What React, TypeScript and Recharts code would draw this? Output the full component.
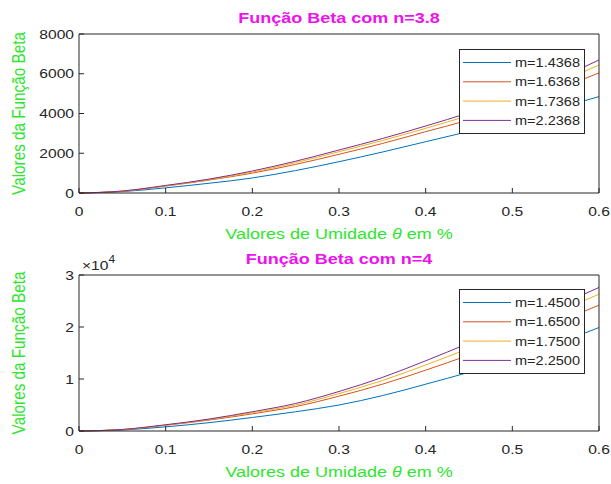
import { LineChart, Line, XAxis, YAxis, Legend, Label } from "recharts";

// teor de umidade (theta)
const theta = [0, 0.05, 0.1, 0.15, 0.2, 0.25, 0.3, 0.35, 0.4, 0.45, 0.5, 0.55, 0.6];

// n = 3.8
const n38Names = ["m=1.4368", "m=1.6368", "m=1.7368", "m=2.2368"];
const n38m1 = [0, 70, 260, 490, 755, 1130, 1575, 2060, 2580, 3100, 3640, 4230, 4850];
const n38m2 = [0, 90, 350, 650, 1000, 1440, 1947, 2490, 3086, 3680, 4400, 5200, 6040];
const n38m3 = [0, 95, 360, 670, 1050, 1530, 2078, 2640, 3255, 3900, 4620, 5500, 6440];
const n38m4 = [0, 100, 380, 700, 1107, 1600, 2164, 2740, 3371, 4040, 4780, 5700, 6690];

// n = 4
const n4Names = ["m=1.4500", "m=1.6500", "m=1.7500", "m=2.2500"];
const n4m1 = [0, 200, 800, 1600, 2600, 3700, 5000, 6800, 9000, 11300, 13800, 16700, 19900];
const n4m2 = [0, 260, 1100, 2100, 3300, 4700, 6700, 9000, 11700, 14600, 17600, 20800, 24200];
const n4m3 = [0, 280, 1150, 2200, 3500, 5000, 7200, 9700, 12700, 15900, 19300, 22800, 26300];
const n4m4 = [0, 300, 1200, 2300, 3700, 5300, 7600, 10300, 13500, 16900, 20300, 23900, 27600];

const xTicks = [0, 0.1, 0.2, 0.3, 0.4, 0.5, 0.6];
const n38Ticks = [0, 2000, 4000, 6000, 8000];
const n4Ticks = [0, 10000, 20000, 30000];

const colors = ["#0072BD", "#D95319", "#EDB120", "#7E2F8E"];
const INK = "#262626";
const GREEN = "#2ee62e";
const MAGENTA = "#ee11ee";
const FONT = "'Liberation Sans', Arial, sans-serif";
const SX = 1.2; // the picture is a bit wider than tall

function buildRows(series: number[][]) {
  return theta.map((t, i) => {
    const row: Record<string, number> = { theta: t };
    series.forEach((s, k) => (row[`s${k}`] = s[i]));
    return row;
  });
}

// text stretched horizontally like the reference
const SText = ({ x, y, anchor = "start", size = 13, fill = INK, weight, rotate, dy, children }: any) => (
  <text
    transform={`translate(${x} ${y}) scale(${SX} 1)${rotate ? ` rotate(${rotate})` : ""}`}
    x={0}
    y={0}
    dy={dy}
    textAnchor={anchor}
    fill={fill}
    fontSize={size}
    fontWeight={weight}
    fontFamily={FONT}
  >
    {children}
  </text>
);

const XTick = (props: any) => (
  <SText x={props.x} y={props.y} anchor="middle">
    {props.payload.value}
  </SText>
);

const makeYTick = (scale: number) => (props: any) => (
  <SText x={props.x} y={props.y} dy="0.36em" anchor="end">
    {props.payload.value / scale}
  </SText>
);

const BoxLegend = (props: any) => {
  // skip the invisible box-axis helper line
  const items = (props.payload || []).filter((p: any) => p.type !== "none" && p.color !== "none");
  return (
    <svg width={127} height={86} style={{ display: "block" }}>
      <rect x={0.5} y={0.5} width={125} height={84} fill="#fff" stroke={INK} />
      {items.map((p: any, i: number) => {
        const cy = 13.5 + i * 19.3;
        return (
          <g key={p.value}>
            <line x1={4} x2={52} y1={cy} y2={cy} stroke={p.color} strokeWidth={1} />
            <text x={121} y={cy + 4.5} textAnchor="end" fill={INK} fontSize={12} fontFamily={FONT} textLength={65} lengthAdjust="spacingAndGlyphs">
              {p.value}
            </text>
          </g>
        );
      })}
    </svg>
  );
};

function Panel({
  rows,
  names,
  yTicks,
  yMax,
  title,
  top,
  bottom,
  legendTop,
  exponent,
}: {
  rows: Record<string, number>[];
  names: string[];
  yTicks: number[];
  yMax: number;
  title: string;
  top: number;
  bottom: number;
  legendTop: number;
  exponent?: boolean;
}) {
  const scale = exponent ? 10000 : 1;
  return (
    <LineChart width={611} height={242} data={rows} margin={{ top: top - 1, right: 11, left: 19, bottom }}>
      <XAxis
        dataKey="theta"
        type="number"
        domain={[0, 0.6]}
        ticks={xTicks}
        interval={0}
        height={40}
        stroke={INK}
        tickSize={-5}
        tickMargin={28}
        tick={XTick}
      >
        <Label
          content={(p: any) => {
            const vb = p.viewBox;
            return (
              <SText x={vb.x + vb.width / 2} y={vb.y + 46} anchor="middle" size={15} fill={GREEN}>
                Valores de Umidade <tspan fontStyle="italic">θ</tspan> em %
              </SText>
            );
          }}
        />
      </XAxis>
      <XAxis
        xAxisId="top"
        orientation="top"
        dataKey="theta"
        type="number"
        domain={[0, 0.6]}
        ticks={xTicks}
        interval={0}
        height={1}
        stroke={INK}
        tickSize={-5}
        tick={false}
      >
        <Label
          content={(p: any) => {
            const vb = p.viewBox;
            return (
              <SText x={vb.x + vb.width / 2} y={vb.y + vb.height - 11} anchor="middle" size={15} weight="bold" fill={MAGENTA}>
                {title}
              </SText>
            );
          }}
        />
      </XAxis>
      <YAxis
        type="number"
        domain={[0, yMax]}
        ticks={yTicks}
        interval={0}
        width={60}
        stroke={INK}
        tickSize={-5}
        tickMargin={10}
        tick={makeYTick(scale)}
      >
        <Label
          content={(p: any) => {
            const vb = p.viewBox;
            const cy = vb.y + vb.height / 2;
            return (
              <SText x={25} y={cy} rotate={-90} anchor="middle" size={15.3} fill={GREEN}>
                Valores da Função Beta
              </SText>
            );
          }}
        />
        {exponent && (
          <Label
            content={(p: any) => {
              const vb = p.viewBox;
              return (
                <SText x={vb.x + vb.width + 3} y={vb.y - 5} size={13}>
                  ×10<tspan fontSize={10} dy={-7}>4</tspan>
                </SText>
              );
            }}
          />
        )}
      </YAxis>
      <YAxis
        yAxisId="right"
        orientation="right"
        type="number"
        domain={[0, yMax]}
        ticks={yTicks}
        interval={0}
        width={1}
        stroke={INK}
        tickSize={-5}
        tick={false}
      />
      <Legend
        layout="horizontal"
        verticalAlign="middle"
        align="center"
        content={BoxLegend}
        wrapperStyle={{ position: "absolute", left: 459, top: legendTop, width: 127, height: 86 }}
      />
      {names.map((name, k) => (
        <Line
          key={name}
          name={name}
          dataKey={`s${k}`}
          type="monotone"
          stroke={colors[k]}
          strokeWidth={1}
          dot={false}
          activeDot={false}
          isAnimationActive={false}
        />
      ))}
      {/* invisible copy so the top and right box axes get drawn */}
      <Line
        xAxisId="top"
        yAxisId="right"
        dataKey="s0"
        stroke="none"
        legendType="none"
        dot={false}
        activeDot={false}
        isAnimationActive={false}
      />
    </LineChart>
  );
}

export default function App() {
  const rows38 = buildRows([n38m1, n38m2, n38m3, n38m4]);
  const rows4 = buildRows([n4m1, n4m2, n4m3, n4m4]);
  return (
    <div style={{ position: "absolute", left: 0, top: 0, width: 611, height: 484, background: "#fff" }}>
      <div style={{ position: "absolute", left: 0, top: 0 }}>
        <Panel rows={rows38} names={n38Names} yTicks={n38Ticks} yMax={8000} title="Função Beta com n=3.8" top={34} bottom={9} legendTop={49} />
      </div>
      <div style={{ position: "absolute", left: 0, top: 242 }}>
        <Panel rows={rows4} names={n4Names} yTicks={n4Ticks} yMax={30000} title="Função Beta com n=4" top={33} bottom={13} legendTop={47} exponent />
      </div>
    </div>
  );
}
